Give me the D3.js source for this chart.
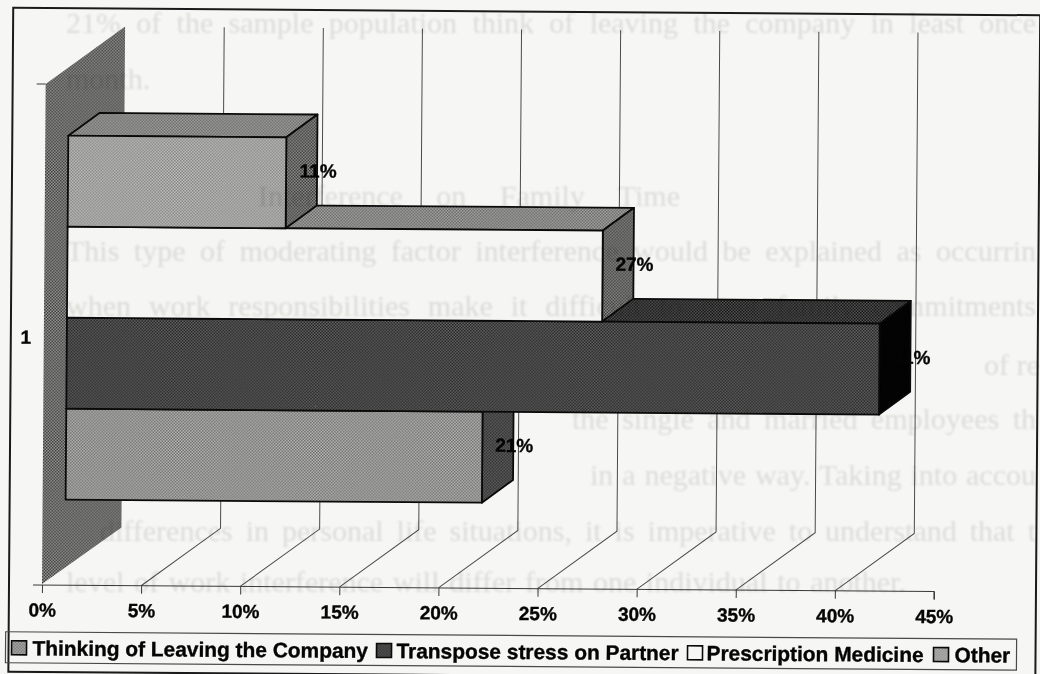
<!DOCTYPE html>
<html>
<head>
<meta charset="utf-8">
<script src="https://cdn.jsdelivr.net/npm/d3@7"></script>
<style>
html,body{margin:0;padding:0;background:#f6f6f4;overflow:hidden}
svg{display:block}
text{font-family:"Liberation Sans",Arial,sans-serif;font-weight:700;fill:#050505}
.heavy{stroke:#050505;stroke-width:0.35px}
</style>
</head>
<body>
<svg id="chart" width="1040" height="674"></svg>
<script>
// Stacking order runs top bar to bottom bar on the category axis
const barSeries = ["Other", "Prescription Medicine", "Transpose stress on Partner", "Thinking of Leaving the Company"];
const barValues = [11, 27, 41, 21];
const legendOrder = ["Thinking of Leaving the Company", "Transpose stress on Partner", "Prescription Medicine", "Other"];
const categoryLabels = ["1"];
const axisTicks = [0, 5, 10, 15, 20, 25, 30, 35, 40, 45];

// Page text printed on the far side of the sheet: string, left edge, baseline, fitted width
const showThrough = [
  ["21% of the sample population think of leaving the company in least once", 66, 33, 970],
  ["month.", 66, 89, 90],
  ["Interference on Family Time", 258, 206, 422],
  ["This type of moderating factor interference would be explained as occurrin", 66, 261, 970],
  ["when work responsibilities make it difficult to meet family commitments", 66, 316, 970],
  ["of re", 984, 375, 54],
  ["the single and married employees th", 572, 429, 464],
  ["in a negative way. Taking into accou", 590, 485, 446],
  ["differences in personal life situations, it is imperative to understand that t", 100, 541, 936],
  ["level of work interference will differ from one individual to another.", 66, 592, 840]
];

const faceFills = {
  "Other": {front: ["#c6c6c4", "#7c7c7c"], top: ["#b4b4b2", "#565656"], side: ["#949492", "#363636"]},
  "Prescription Medicine": {front: ["#f5f5f3", "#f5f5f3"], top: ["#b4b4b2", "#585858"], side: ["#949492", "#363636"]},
  "Transpose stress on Partner": {front: ["#6c6c6c", "#1c1c1c"], top: ["#585858", "#101010"], side: ["#050505", "#000000"]},
  "Thinking of Leaving the Company": {front: ["#bcbcba", "#686868"], top: ["#949492", "#363636"], side: ["#6c6c6c", "#222222"]}
};

const svg = d3.select("#chart");
const defs = svg.append("defs");

function halftone(id, pair) {
  const p = defs.append("pattern").attr("id", id).attr("patternUnits", "userSpaceOnUse")
    .attr("width", 3).attr("height", 3);
  p.append("rect").attr("width", 3).attr("height", 3).attr("fill", pair[0]);
  p.append("rect").attr("width", 1.5).attr("height", 1.5).attr("fill", pair[1]);
  p.append("rect").attr("x", 1.5).attr("y", 1.5).attr("width", 1.5).attr("height", 1.5).attr("fill", pair[1]);
}
barSeries.forEach((s, i) => ["front", "top", "side"].forEach(f => halftone(`fill-${i}-${f}`, faceFills[s][f])));
halftone("wall-fill", ["#9c9c9a", "#383838"]);
defs.append("filter").attr("id", "soft").append("feGaussianBlur").attr("stdDeviation", 0.8);

// The sheet sits slightly skewed, so everything turns around the axis origin
const originX = 42, floorY = 585, wallTopY = 84;
const root = svg.append("g").attr("transform", `rotate(0.42 ${originX} ${floorY})`);

const x = d3.scaleLinear().domain([0, 45]).range([originX, 934]);
const band = d3.scaleBand().domain(barSeries).range([135.5, 499.5]);

const wallDepth = {dx: 79, dy: -58};
const barDepth = {dx: 31, dy: -23};
const barInset = 23;
const line = d3.line();

// Outer frame
root.append("rect").attr("x", 9).attr("y", 8).attr("width", 1027).attr("height", 664)
  .attr("fill", "none").attr("stroke", "#1a1a1a").attr("stroke-width", 2);

// Side wall
root.append("path")
  .attr("d", line([[originX, floorY - 1], [originX, wallTopY],
    [originX + wallDepth.dx, wallTopY + wallDepth.dy], [originX + wallDepth.dx, floorY + wallDepth.dy]]) + "Z")
  .attr("fill", "url(#wall-fill)");

// Gridlines climbing from the floor up the back plane
const grid = root.append("g").attr("fill", "none").attr("stroke", "#4a4a4a").attr("stroke-width", 1);
axisTicks.slice(1, -1).forEach(t => {
  grid.append("path").attr("d", line([[x(t), floorY],
    [x(t) + wallDepth.dx, floorY + wallDepth.dy],
    [x(t) + wallDepth.dx, wallTopY + wallDepth.dy]]));
});

// Value axis along the floor
const axisG = root.append("g").attr("transform", `translate(0,${floorY})`)
  .call(d3.axisBottom(x).tickValues(axisTicks).tickFormat(d => d + "%").tickSize(8).tickPadding(10));
axisG.selectAll("path,line").attr("stroke", "#3a3a3a");
axisG.select("path").attr("d", `M${originX - 9},0H${x(45)}V8`);
axisG.selectAll("text").attr("font-size", 19).attr("class", "heavy")
  .style("font-family", '"Liberation Sans",Arial,sans-serif').style("font-weight", 700).attr("fill", "#050505");

// Category axis tick and label
root.append("path").attr("d", line([[originX - 9, wallTopY], [originX, wallTopY]])).attr("stroke", "#3a3a3a").attr("fill", "none");
root.append("text").attr("class", "heavy").attr("x", 24).attr("y", 344).attr("text-anchor", "middle").attr("font-size", 19).text(categoryLabels[0]);

// Bars, painted from the lowest upward so each one covers the top of the next
const bars = root.append("g").attr("stroke", "#0a0a0a").attr("stroke-width", 1.8).attr("stroke-linejoin", "round");
d3.range(barSeries.length - 1, -1, -1).forEach(i => {
  const s = barSeries[i], x0 = originX + barInset, x1 = x(barValues[i]) + barInset;
  const y0 = band(s), y1 = y0 + band.bandwidth();
  const {dx, dy} = barDepth;
  bars.append("path").attr("fill", `url(#fill-${i}-top)`)
    .attr("d", line([[x0, y0], [x0 + dx, y0 + dy], [x1 + dx, y0 + dy], [x1, y0]]) + "Z");
  bars.append("path").attr("fill", `url(#fill-${i}-side)`)
    .attr("d", line([[x1, y0], [x1 + dx, y0 + dy], [x1 + dx, y1 + dy], [x1, y1]]) + "Z");
  bars.append("rect").attr("x", x0).attr("y", y0).attr("width", x1 - x0).attr("height", y1 - y0)
    .attr("fill", `url(#fill-${i}-front)`);
});

// Value labels centred on the bars' far edges
root.append("g").attr("text-anchor", "middle").attr("font-size", 19).attr("class", "heavy")
  .selectAll("text").data(barSeries).join("text")
  .attr("x", (s, i) => x(barValues[i]) + barInset + barDepth.dx + 1)
  .attr("y", s => band(s) + band.bandwidth() / 2 + barDepth.dy / 2 + 6)
  .text((s, i) => barValues[i] + "%");

// Legend strip
const legend = root.append("g");
legend.append("rect").attr("x", 6).attr("y", 632).attr("width", 1011).attr("height", 31)
  .attr("fill", "none").attr("stroke", "#4a4a4a").attr("stroke-width", 1.2);
const swatchX = [12, 377, 688, 934], labelX = [33, 397, 707, 955], legendFill = {
  "Thinking of Leaving the Company": "url(#fill-3-front)",
  "Transpose stress on Partner": "url(#fill-2-front)",
  "Prescription Medicine": "#f6f6f4",
  "Other": "url(#fill-0-front)"
};
legendOrder.forEach((name, i) => {
  legend.append("rect").attr("x", swatchX[i]).attr("y", 641).attr("width", 15).attr("height", 14)
    .attr("fill", legendFill[name]).attr("stroke", "#0a0a0a").attr("stroke-width", 1.6);
  legend.append("text").attr("class", "heavy").attr("x", labelX[i]).attr("y", 655.5).attr("font-size", 20.9).text(name);
});

// Faint print from the other side of the page, over the whole sheet
const ghost = svg.append("g").attr("filter", "url(#soft)").style("mix-blend-mode", "multiply");
ghost.selectAll("text").data(showThrough).join("text")
  .attr("x", d => d[1]).attr("y", d => d[2])
  .attr("font-size", 30)
  .style("font-family", '"Liberation Serif",serif').style("font-weight", 400).style("fill", "#e5e5e3")
  .text(d => d[0])
  .each(function (d) {
    // Justify each line by opening up the gaps between its words
    const gaps = d[0].split(" ").length - 1;
    if (gaps > 0) d3.select(this).style("word-spacing", Math.max(0, (d[3] - this.getComputedTextLength()) / gaps) + "px");
  });
</script>
</body>
</html>
